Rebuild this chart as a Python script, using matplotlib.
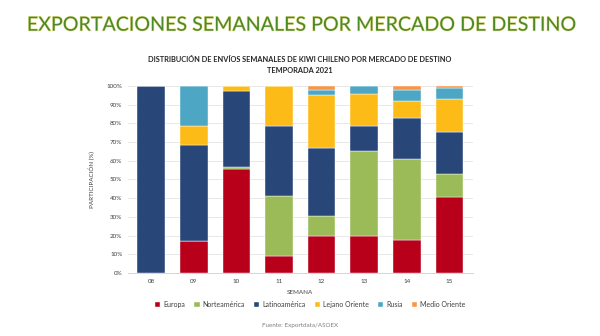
import numpy as np
import matplotlib.pyplot as plt
import matplotlib.patheffects as pe

semanas = ['08', '09', '10', '11', '12', '13', '14', '15']
europa = [0, 17.1, 55.6, 8.9, 19.7, 19.7, 17.6, 40.7]
norteamerica = [0, 0, 1.2, 32.0, 10.5, 45.3, 43.5, 12.1]
latinoamerica = [100, 51.1, 40.2, 37.6, 36.6, 13.5, 21.7, 22.7]
lejano_oriente = [0, 10.3, 3.0, 21.5, 28.4, 17.1, 9.2, 17.6]
rusia = [0, 21.5, 0, 0, 2.7, 4.4, 5.9, 5.7]
medio_oriente = [0, 0, 0, 0, 2.1, 0, 2.1, 1.2]

series = [europa, norteamerica, latinoamerica, lejano_oriente, rusia, medio_oriente]
nombres = ['Europa', 'Norteamérica', 'Latinoamérica', 'Lejano Oriente', 'Rusia', 'Medio Oriente']
colores = ['#B8001B', '#9BBB59', '#284677', '#FDBB17', '#4DA7C4', '#F79646']

plt.rcParams['font.family'] = ['Lato', 'DejaVu Sans']

fig = plt.figure(figsize=(6, 3.36), dpi=100)
ax = fig.add_axes([0.213, 0.1875, 0.575, 0.557])

x = np.arange(len(semanas))
bottom = np.zeros(len(semanas))
for vals, nom, col in zip(series, nombres, colores):
    v = np.array(vals) / 100
    ax.bar(x, v, 0.65, bottom=bottom, color=col, label=nom,
           edgecolor='white', linewidth=0.3, zorder=3)
    bottom += v

ax.set_ylim(0, 1)
ax.set_xlim(-0.55, len(semanas) - 0.45)
ax.set_yticks(np.arange(0, 1.01, 0.1))
ax.set_yticklabels([f'{int(t)}%' for t in np.arange(0, 101, 10)], fontsize=4.5, color='#404040')
ax.set_xticks(x)
ax.set_xticklabels(semanas, fontsize=4.5, color='#404040')
ax.tick_params(length=0, pad=4)
ax.grid(axis='y', color='#E4E4E4', linewidth=0.6, zorder=0)
for s in ['top', 'right', 'left']:
    ax.spines[s].set_visible(False)
ax.spines['bottom'].set_color('#D0D0D0')
ax.spines['bottom'].set_linewidth(0.6)

ax.set_xlabel('SEMANA', fontsize=4.5, color='#404040', labelpad=5)
ax.set_ylabel('PARTICIPACIÓN (%)', fontsize=4.5, color='#404040', labelpad=8)

titulo = fig.text(0.5, 0.925, 'EXPORTACIONES SEMANALES POR MERCADO DE DESTINO',
                  ha='center', va='center', fontsize=17.5, color='#4A8A2A',
                  path_effects=[pe.withStroke(linewidth=0.9, foreground='#F2E6A0')])
# ajustar el tamaño del título al ancho del original (~550 px)
r = fig.canvas.get_renderer()
w = titulo.get_window_extent(r).width
titulo.set_fontsize(17.5 * 548 / w)

fig.text(0.5, 0.822, 'DISTRIBUCIÓN DE ENVÍOS SEMANALES DE KIWI CHILENO POR MERCADO DE DESTINO',
         ha='center', va='center', fontsize=5.3, fontweight='bold', color='#262626')
fig.text(0.5, 0.79, 'TEMPORADA 2021', ha='center', va='center',
         fontsize=5.3, fontweight='bold', color='#262626')

fig.legend(loc='center', bbox_to_anchor=(0.517, 0.093), ncol=6, frameon=False,
           fontsize=5.0, handlelength=0.8, handleheight=0.8, handletextpad=0.4,
           columnspacing=1.3, labelcolor='#404040')

fig.text(0.5, 0.03, 'Fuente: Exportdata/ASOEX', ha='center', va='center',
         fontsize=4.5, color='#808080')

fig.savefig('out.png', dpi=100)
